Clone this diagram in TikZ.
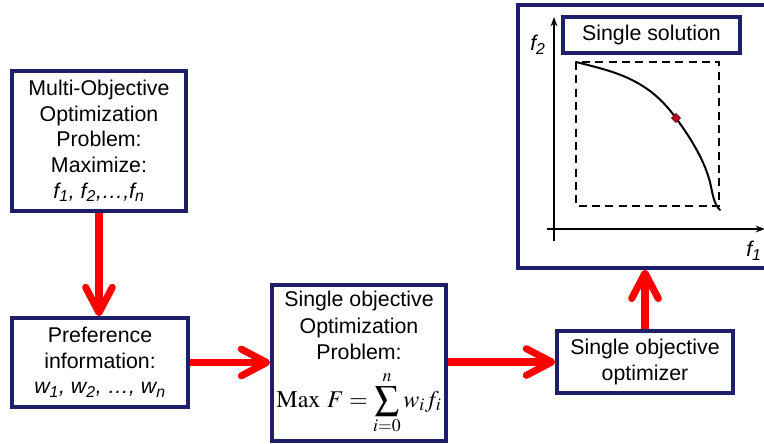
\documentclass[tikz,border=0pt]{standalone}
\usepackage{mathptmx}
\usepackage[no-math]{fontspec}
\setmainfont{Liberation Sans}
\usetikzlibrary{arrows.meta,shapes.geometric}
\definecolor{navy}{HTML}{1E1E6A}
\definecolor{dotred}{HTML}{C00020}
\tikzset{
  box/.style={draw=navy,line width=2.7pt,fill=white,rectangle,align=center,inner sep=0pt,
    font=\fontsize{16}{19.2}\selectfont},
  bigarrow/.style={draw=red,line width=5.3pt,
    -{Straight Barb[length=19pt,width=20pt,line cap=round,line join=round]}},
  axis/.style={draw=black,line width=1.5pt,-{Stealth[length=7pt,width=5pt]}},
  frontier/.style={draw=black,line width=1.5pt},
  dashbox/.style={draw=black,line width=1.8pt,dash pattern=on 6pt off 4pt},
  lab/.style={font=\fontsize{16}{18}\selectfont\itshape,inner sep=0pt}
}
\begin{document}
\begin{tikzpicture}[x=0.75pt,y=-0.75pt]
\useasboundingbox (0,0) rectangle (764,443);
% boxes
\node[box,minimum width=130.5pt,minimum height=105pt] (multi) at (99,141)
  {Multi-Objective\\Optimization\\Problem:\\Maximize:\\\textit{f\textsubscript{1}, f\textsubscript{2},…,f\textsubscript{n}}};
\node[box,minimum width=132pt,minimum height=66.75pt] (pref) at (100,362.5)
  {Preference\\information:\\\textit{w\textsubscript{1}, w\textsubscript{2}, …, w\textsubscript{n}}};
\node[box,minimum width=130.5pt,minimum height=117pt,font=\fontsize{16}{19.6}\selectfont] (sop) at (359,363)
  {Single objective\\Optimization\\Problem:\\[8pt]
   {\fontsize{18}{20}\selectfont $\mathrm{Max}\ F=\displaystyle\sum_{i=0}^{n}w_i f_i$}};
\node[box,minimum width=132pt,minimum height=46.5pt] (opt) at (645,362)
  {Single objective\\optimizer};
\node[box,minimum width=186pt,minimum height=197pt] (plot) at (642,136.5) {};
\node[box,minimum width=132.75pt,minimum height=27pt] (sol) at (651.5,35) {Single solution};
% plot contents
\coordinate (ybot) at (554,241);
\coordinate (ytop) at (554,17);
\coordinate (xleft) at (547,229);
\coordinate (xright) at (765,229);
\draw[axis] (ybot) -- (ytop);
\draw[axis] (xleft) -- (xright);
\node[lab] (f2) at (538,45) {f\textsubscript{2}};
\node[lab] (f1) at (754,251) {f\textsubscript{1}};
\draw[dashbox] (576,62) rectangle (719,206);
\coordinate (c0) at (576,62);
\coordinate (c1) at (632,80);
\coordinate (c2) at (676,118);
\coordinate (c3) at (710,182);
\coordinate (c4) at (720,210);
\draw[frontier,line cap=round] (c0) .. controls (600,68) and (616,72) .. (c1)
  .. controls (652,90) and (664,102) .. (c2)
  .. controls (692,140) and (704,160) .. (c3)
  .. controls (713,196) and (714,204) .. (c4);
\node[diamond,fill=dotred,draw=black!60!dotred,line width=0.4pt,inner sep=0pt,
  minimum width=7pt,minimum height=7pt] (pt) at (c2) {};
% arrows
\draw[bigarrow] (multi.south) -- (multi.south |- pref.north);
\draw[bigarrow] (pref.east) -- (pref.east -| sop.west);
\draw[bigarrow] (sop.east |- opt.west) -- (opt.west);
\draw[bigarrow] (opt.north) -- (opt.north |- plot.south);
\end{tikzpicture}
\end{document}
